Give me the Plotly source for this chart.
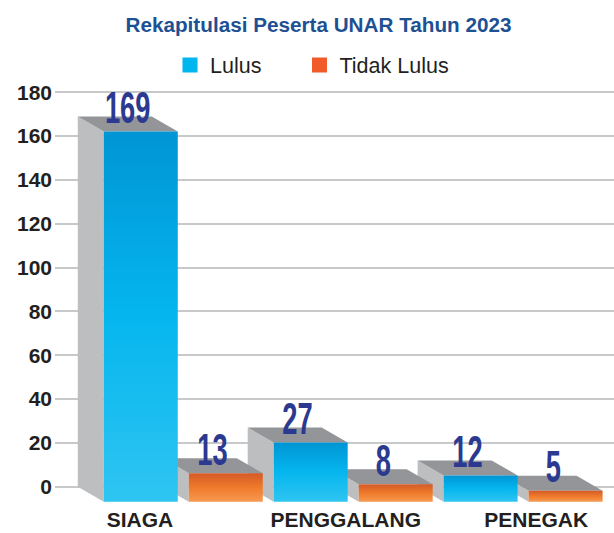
import plotly.graph_objects as go

# ---------------- data ----------------
categories = ["SIAGA", "PENGGALANG", "PENEGAK"]
series_names = ["Lulus", "Tidak Lulus"]
lulus = [169, 27, 12]
tidak_lulus = [13, 8, 5]
y_tick_values = [0, 20, 40, 60, 80, 100, 120, 140, 160, 180]
title_text = "Rekapitulasi Peserta UNAR Tahun 2023"

# ---------------- style / layout constants ----------------
W, H = 614, 533
PLOT_L, PLOT_R, PLOT_T, PLOT_B = 55, 614, 88, 505
X_RANGE = [-0.755, 2.535]
Y_RANGE = [-8.35, 181.96]
PX_X = (PLOT_R - PLOT_L) / (X_RANGE[1] - X_RANGE[0])
PX_Y = (PLOT_B - PLOT_T) / (Y_RANGE[1] - Y_RANGE[0])
DEPTH_X = 26 / PX_X          # 3D depth, horizontal (data units)
DEPTH_Y = 15 / PX_Y          # 3D depth, vertical (data units)
BAR_W = 74 / PX_X
SERIES_OFFSET = [-42.5 / PX_X, 42.5 / PX_X]
LABEL_NUDGE = [-0.255, -0.044, 0.077]
LEGEND_X = [170.0, 299.5]

FRONT_SCALES = [
    [[0, "#2fc5f2"], [0.5, "#05b6ee"], [1, "#0095d5"]],
    [[0, "#f59a52"], [0.5, "#f07a2b"], [1, "#d45a27"]],
]
LEGEND_COLORS = ["#00b6ef", "#f15a29"]
SIDE_COLOR = "#bcbec0"
TOP_COLOR = "#939598"
LABEL_COLOR = "#2b3990"
TEXT_COLOR = "#231f20"
TITLE_COLOR = "#1d5193"
GRID_COLOR = "#c8c9cb"

SANS = "Liberation Sans, Arial, Helvetica, sans-serif"

fig = go.Figure()

bars = []
for s, values in enumerate([lulus, tidak_lulus]):
    for i, v in enumerate(values):
        bars.append((i + SERIES_OFFSET[s], v, s))
# draw right-to-left so left bars occlude the side faces of right bars
bars.sort(key=lambda b: -b[0])

annotations = []
for xc, v, s in bars:
    x0, x1 = xc - BAR_W / 2, xc + BAR_W / 2
    d = DEPTH_Y
    dx = DEPTH_X
    fig.add_trace(go.Scatter(
        x=[x0, x0, x0 - dx, x0 - dx, x0],
        y=[-d, v - d, v, 0, -d],
        mode="lines", fill="toself", fillcolor=SIDE_COLOR,
        line=dict(width=0, color=SIDE_COLOR), hoverinfo="skip", showlegend=False))
    fig.add_trace(go.Scatter(
        x=[x0, x1, x1 - dx, x0 - dx, x0],
        y=[v - d, v - d, v, v, v - d],
        mode="lines", fill="toself", fillcolor=TOP_COLOR,
        line=dict(width=0, color=TOP_COLOR), hoverinfo="skip", showlegend=False))
    fig.add_trace(go.Scatter(
        x=[x0, x1, x1, x0, x0],
        y=[-d, -d, v - d, v - d, -d],
        mode="lines", fill="toself",
        fillgradient=dict(type="vertical", colorscale=FRONT_SCALES[s]),
        line=dict(width=0, color=FRONT_SCALES[s][1][1]),
        hoverinfo="skip", showlegend=False))
    annotations.append(dict(
        x=xc - dx / 2, y=v - d / 2, xref="x", yref="y",
        text=str(v), showarrow=False, yanchor="bottom", xanchor="center",
        yshift=-10,
        font=dict(family=SANS, size=44, color=LABEL_COLOR, weight="bold")))

legend_ids = ["legend", "legend2"]
for s, name in enumerate(series_names):
    fig.add_trace(go.Scatter(
        x=[None], y=[None], mode="markers", name=name, legend=legend_ids[s],
        marker=dict(symbol="square", size=15, color=LEGEND_COLORS[s]),
        hoverinfo="skip"))

legend_common = dict(orientation="h", xref="container", yref="container",
                     y=1 - 65 / H, xanchor="left", yanchor="middle",
                     font=dict(family=SANS, size=21.5, color=TEXT_COLOR),
                     bgcolor="rgba(0,0,0,0)", borderwidth=0)

fig.update_layout(
    width=W, height=H,
    margin=dict(l=PLOT_L, r=W - PLOT_R, t=PLOT_T, b=H - PLOT_B, pad=0, autoexpand=False),
    paper_bgcolor="white", plot_bgcolor="white",
    title=dict(text=title_text, x=318.5 / W, y=1 - 25 / H,
               xanchor="center", yanchor="middle", xref="container", yref="container",
               font=dict(family=SANS, size=20.7, color=TITLE_COLOR, weight="bold")),
    legend=dict(x=LEGEND_X[0] / W, **legend_common),
    legend2=dict(x=LEGEND_X[1] / W, **legend_common),
    xaxis=dict(range=X_RANGE, showgrid=False, zeroline=False, showline=False,
               tickmode="array",
               tickvals=[i + LABEL_NUDGE[i] for i in range(len(categories))],
               ticktext=categories, ticks="", automargin=False,
               tickfont=dict(family=SANS, size=21, color=TEXT_COLOR, weight="bold"),
               fixedrange=True),
    yaxis=dict(range=Y_RANGE, tickmode="array", tickvals=y_tick_values,
               showgrid=True, gridcolor=GRID_COLOR, gridwidth=2,
               zeroline=False, showline=False, ticks="", automargin=False,
               ticklabelstandoff=2,
               tickfont=dict(family=SANS, size=21, color=TEXT_COLOR, weight="bold"),
               fixedrange=True),
    annotations=annotations,
    showlegend=True,
)

# remove the page's default body margin; condense the value labels horizontally
post = """
document.body.style.margin = '0';
var gd = document.getElementById('{plot_id}');
gd.querySelectorAll('.annotation-text').forEach(function(t){
  var b = t.getBBox(); var cx = b.x + b.width / 2;
  t.setAttribute('transform', 'translate(' + cx + ',0) scale(0.62,1) translate(' + (-cx) + ',0)');
});
"""
fig.write_html("out.html", post_script=post, config={"displayModeBar": False})
